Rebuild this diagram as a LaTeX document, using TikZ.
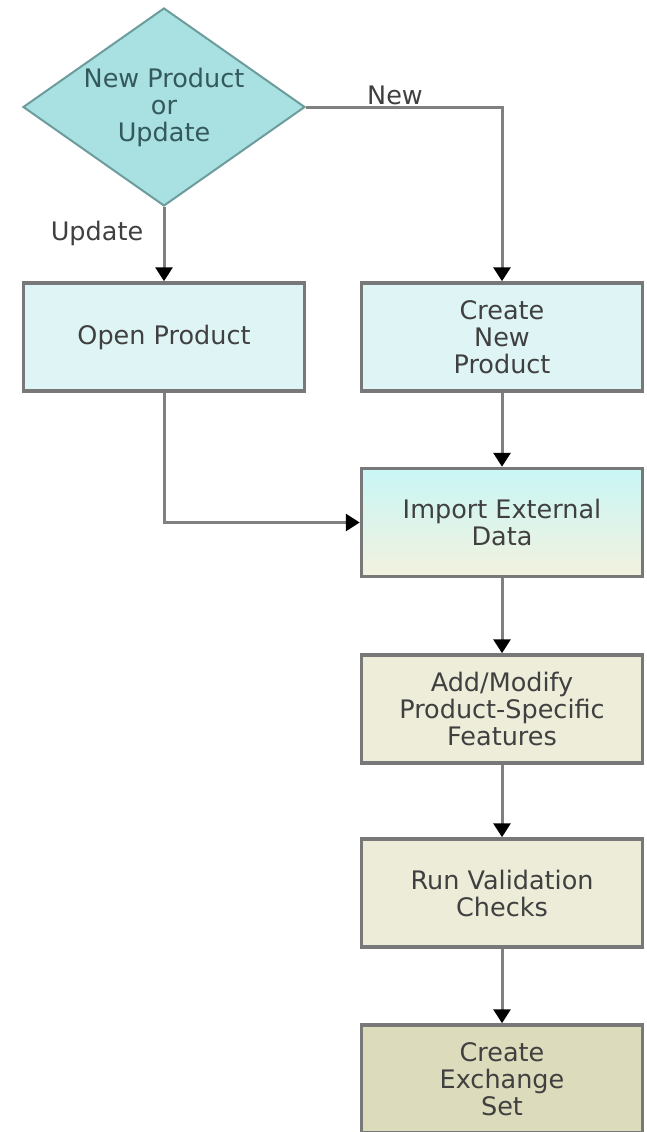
\documentclass[tikz,border=0pt]{standalone}
\usepackage{fontspec}
\setmainfont{DejaVu Sans}
\usetikzlibrary{shapes.geometric,arrows.meta}

\definecolor{decfill}{HTML}{A9E0E2}
\definecolor{decline}{HTML}{6C9C9C}
\definecolor{decinkk}{HTML}{34595A}
\definecolor{cyanbox}{HTML}{DFF5F5}
\definecolor{creambox}{HTML}{F2F2DE}
\definecolor{beigebox}{HTML}{EDEDDA}
\definecolor{sandbox}{HTML}{DCDCBC}
\definecolor{boxline}{HTML}{787878}
\definecolor{flowline}{HTML}{808080}
\definecolor{inkk}{HTML}{404040}

\tikzset{
	txt/.style={font=\fontsize{25.5}{27}\selectfont, align=center},
	decision/.style={txt, shape=diamond, shape aspect=1.42, inner sep=0pt,
		minimum width=282pt, minimum height=198pt, draw=decline, line width=2pt,
		fill=decfill, text=decinkk},
	stepbox/.style={txt, shape=rectangle, minimum width=281pt, minimum height=108pt,
		draw=boxline, line width=3.5pt, text=inkk},
	flow/.style={draw=flowline, line width=3pt,
		-{Triangle[length=14pt,width=17pt,color=black]}},
	lbl/.style={txt, text=inkk}
}

\begin{document}
\begin{tikzpicture}[x=1pt, y=-1pt]
		%%%%% START %%%%%
		
		\useasboundingbox (0, 0) rectangle (646, 1132);
		
		\node[decision] (dec) at (164, 107) {New Product\\or\\Update};
		
		\node[stepbox, fill=cyanbox] (open) at (164, 337) {Open Product};
		\node[stepbox, fill=cyanbox] (create) at (502, 337) {Create\\New\\Product};
		
		\node[stepbox, top color=cyanbox!90!cyan, bottom color=creambox] (import) at (502, 522.5) {Import External\\Data};
		\node[stepbox, fill=beigebox] (addmod) at (502, 709) {Add/Modify\\Product-Specific\\Features};
		\node[stepbox, fill=beigebox!95!sandbox] (runval) at (502, 893) {Run Validation\\Checks};
		\node[stepbox, fill=sandbox] (exch) at (502, 1079) {Create\\Exchange\\Set};
		
		\node[lbl] (updlbl) at (97, 233) {Update};
		\node[lbl] (newlbl) at (395, 95) {New};
		
		\draw[flow] (dec.south) -- (open.north);
		\draw[flow] (dec.east) -| (create.north);
		\draw[flow] (open.south) |- (import.west);
		\draw[flow] (create.south) -- (import.north);
		\draw[flow] (import.south) -- (addmod.north);
		\draw[flow] (addmod.south) -- (runval.north);
		\draw[flow] (runval.south) -- (exch.north);
		
		%%%%% END %%%%%
	\end{tikzpicture}
\end{document}
